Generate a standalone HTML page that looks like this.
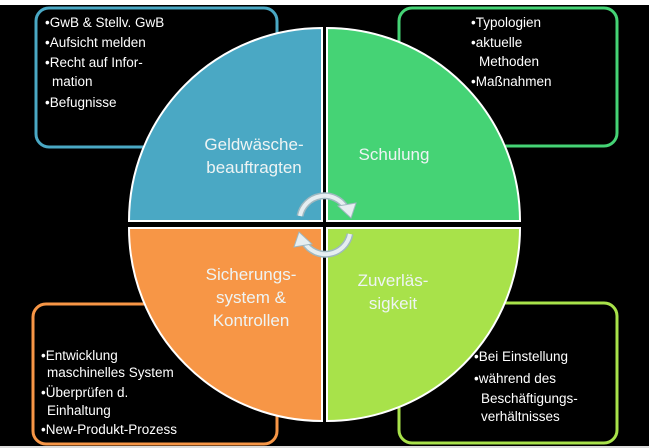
<!DOCTYPE html>
<html><head><meta charset="utf-8"><style>
html,body{margin:0;padding:0;background:#000;}
svg{display:block;}
text{font-family:"Liberation Sans",sans-serif;}
</style></head><body>
<svg width="649" height="448" viewBox="0 0 649 448" xmlns="http://www.w3.org/2000/svg">
<rect width="649" height="448" fill="#000"/>
<rect x="0" y="0" width="649" height="5" fill="#fff"/>
<rect x="0" y="446" width="649" height="2" fill="#ddd"/>
<rect x="36" y="8" width="241" height="139" rx="13" fill="none" stroke="#4aa8c4" stroke-width="3"/>
<rect x="399" y="8" width="218" height="138" rx="13" fill="none" stroke="#45d375" stroke-width="3"/>
<rect x="33" y="304" width="244" height="140" rx="13" fill="none" stroke="#f79646" stroke-width="3"/>
<rect x="399" y="303" width="218" height="140" rx="13" fill="none" stroke="#a8e24a" stroke-width="3"/>
<path d="M322,221 L129,221 A193,193 0 0 1 322,28 Z" fill="#4aa8c4" stroke="#fff" stroke-width="2"/>
<path d="M327,221 L327,28 A193,193 0 0 1 520,221 Z" fill="#45d375" stroke="#fff" stroke-width="2"/>
<path d="M327,228 L520,228 A193,193 0 0 1 327,421 Z" fill="#a8e24a" stroke="#fff" stroke-width="2"/>
<path d="M322,228 L322,421 A193,193 0 0 1 129,228 Z" fill="#f79646" stroke="#fff" stroke-width="2"/>
<g fill="none" stroke-linecap="butt">
<path d="M300,216 A25,25 0 0 1 346,208" stroke="#9fb8c0" stroke-width="7"/>
<path d="M300,216 A25,25 0 0 1 346,208" stroke="#e6eef1" stroke-width="4"/>
<path d="M350,234 A25,25 0 0 1 304,242" stroke="#9fb8c0" stroke-width="7"/>
<path d="M350,234 A25,25 0 0 1 304,242" stroke="#e6eef1" stroke-width="4"/>
</g>
<polygon points="338,206 356,203 351,218" fill="#e6eef1" stroke="#9fb8c0" stroke-width="1"/>
<polygon points="312,244 294,247 299,232" fill="#e6eef1" stroke="#9fb8c0" stroke-width="1"/>
<g fill="#eef4f4" font-size="17" text-anchor="middle">
<text x="254" y="150">Geldwäsche-</text>
<text x="254" y="173">beauftragten</text>
<text x="394" y="160">Schulung</text>
<text x="393" y="286">Zuverläs-</text>
<text x="393" y="309">sigkeit</text>
<text x="251" y="280">Sicherungs-</text>
<text x="251" y="303">system &amp;</text>
<text x="251" y="326">Kontrollen</text>
</g>
<g fill="#fff" font-size="13.5">
<text x="45" y="27">•GwB &amp; Stellv. GwB</text>
<text x="45" y="47">•Aufsicht melden</text>
<text x="45" y="67">•Recht auf Infor-</text>
<text x="52" y="86">mation</text>
<text x="45" y="107">•Befugnisse</text>
<text x="471" y="27">•Typologien</text>
<text x="471" y="47">•aktuelle</text>
<text x="479" y="66">Methoden</text>
<text x="471" y="86">•Maßnahmen</text>
<text x="41" y="360">•Entwicklung</text>
<text x="47" y="377">maschinelles System</text>
<text x="41" y="397">•Überprüfen d.</text>
<text x="47" y="415">Einhaltung</text>
<text x="41" y="434">•New-Produkt-Prozess</text>
<text x="474" y="361">•Bei Einstellung</text>
<text x="474" y="383">•während des</text>
<text x="481" y="403">Beschäftigungs-</text>
<text x="481" y="421">verhältnisses</text>
</g>
</svg>
</body></html>
